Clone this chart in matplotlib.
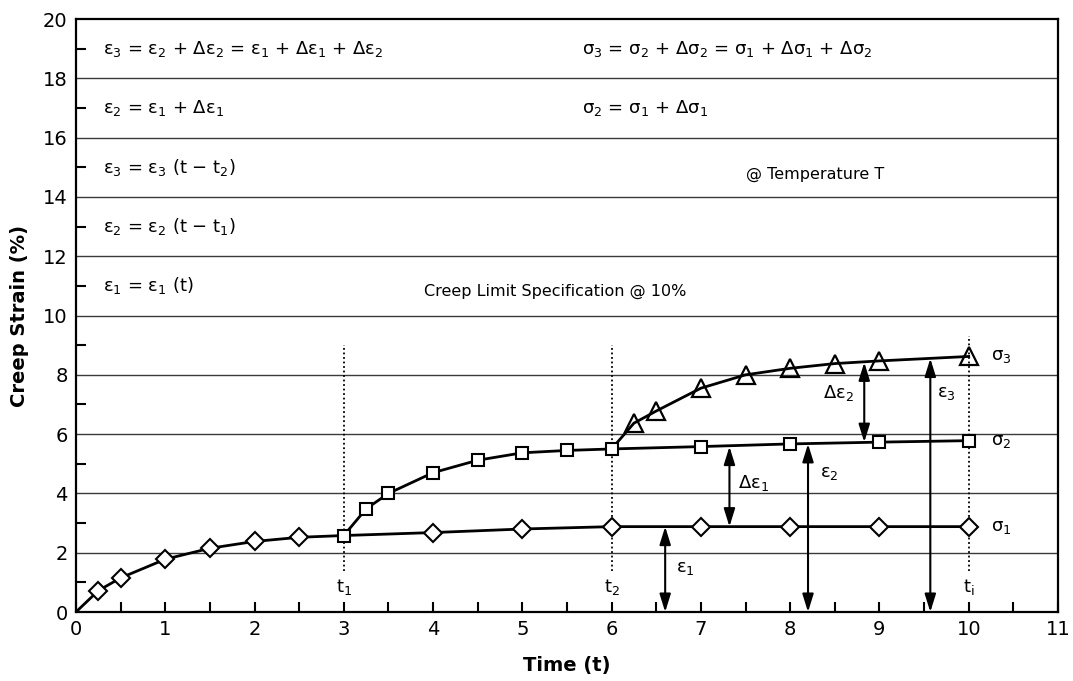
import numpy as np
import matplotlib
matplotlib.use("Agg")
import matplotlib.pyplot as plt

# ---- data ----
# sigma_1 curve (diamonds); the origin and t=3 carry no diamond
t_s1 = [0, 0.25, 0.5, 1, 1.5, 2, 2.5, 3, 4, 5, 6, 7, 8, 9, 10]
e_s1 = [0, 0.72, 1.15, 1.78, 2.15, 2.38, 2.52, 2.58, 2.68, 2.80, 2.88, 2.88, 2.88, 2.88, 2.88]
s1_marked = [1, 2, 3, 4, 5, 6, 8, 9, 10, 11, 12, 13, 14]

# sigma_2 curve (squares), branching from sigma_1 at t1 = 3
t_s2 = [3, 3.25, 3.5, 4, 4.5, 5, 5.5, 6, 7, 8, 9, 10]
e_s2 = [2.58, 3.48, 4.0, 4.70, 5.12, 5.37, 5.45, 5.50, 5.58, 5.67, 5.73, 5.78]

# sigma_3 curve (triangles), branching from sigma_2 at t2 = 6
t_s3 = [6, 6.25, 6.5, 7, 7.5, 8, 8.5, 9, 10]
e_s3 = [5.50, 6.37, 6.78, 7.55, 8.00, 8.22, 8.38, 8.47, 8.62]

# time markers
t_marks = [3, 6, 10]
t_mark_labels = ["t$_1$", "t$_2$", "t$_i$"]
t_mark_top = [9.0, 9.0, 9.3]

# strain arrows: x, bottom, top, label, label x, label y
arrows = [
    (6.6, 0.0, 2.88, "ε$_1$", 6.72, 1.5),
    (7.32, 2.88, 5.58, "Δε$_1$", 7.42, 4.35),
    (8.2, 0.0, 5.67, "ε$_2$", 8.33, 4.7),
    (8.83, 5.73, 8.42, "Δε$_2$", 8.37, 7.38),
    (9.57, 0.0, 8.55, "ε$_3$", 9.64, 7.38),
]

left_notes = [
    (19, "ε$_3$ = ε$_2$ + Δε$_2$ = ε$_1$ + Δε$_1$ + Δε$_2$"),
    (17, "ε$_2$ = ε$_1$ + Δε$_1$"),
    (15, "ε$_3$ = ε$_3$ (t − t$_2$)"),
    (13, "ε$_2$ = ε$_2$ (t − t$_1$)"),
    (11, "ε$_1$ = ε$_1$ (t)"),
]
right_notes = [
    (19, "σ$_3$ = σ$_2$ + Δσ$_2$ = σ$_1$ + Δσ$_1$ + Δσ$_2$"),
    (17, "σ$_2$ = σ$_1$ + Δσ$_1$"),
]
series_labels = ["σ$_1$", "σ$_2$", "σ$_3$"]

plt.rcParams["font.family"] = "DejaVu Sans"
plt.rcParams["mathtext.default"] = "regular"

fig = plt.figure(figsize=(10.73, 6.81), dpi=100)
ax = fig.add_axes([0.0708, 0.1013, 0.9152, 0.8707])

ax.set_xlim(0, 11)
ax.set_ylim(0, 20)

# horizontal grid at major y ticks
for yv in range(2, 20, 2):
    ax.axhline(yv, color="#3a3a3a", lw=1.0, zorder=1)

lw = 2.0
ax.plot(t_s1, e_s1, color="black", lw=lw, zorder=3)
ax.plot(t_s1, e_s1, ls="none", marker="D", ms=9, mfc="white",
        mec="black", mew=1.5, markevery=s1_marked, zorder=4)
ax.plot(t_s2, e_s2, color="black", lw=lw, zorder=3)
ax.plot(t_s2, e_s2, ls="none", marker="s", ms=8, mfc="white",
        mec="black", mew=1.5, zorder=4)
ax.plot(t_s3, e_s3, color="black", lw=lw, zorder=3)
ax.plot(t_s3[1:], e_s3[1:], ls="none", marker="^", ms=12.5, mfc="none",
        mec="black", mew=1.6, zorder=4)

# dotted time markers
for tm, lab, top in zip(t_marks, t_mark_labels, t_mark_top):
    ax.plot([tm, tm], [1.4, top], color="black", lw=1.3, ls=(0, (1, 1.5)), zorder=2)
    ax.text(tm, 0.85, lab, ha="center", va="center", fontsize=13)

# double-headed arrows
for x, y0, y1, lab, lx, ly in arrows:
    ax.annotate("", xy=(x, y1), xytext=(x, y0),
                arrowprops=dict(arrowstyle="<|-|>,head_length=0.9,head_width=0.28",
                                color="black", lw=1.5,
                                mutation_scale=12, shrinkA=0, shrinkB=0),
                zorder=5)
    ax.text(lx, ly, lab, ha="left", va="center", fontsize=13)

# series labels at the right end
for lab, ys in zip(series_labels, [e_s1, e_s2, e_s3]):
    ax.text(10.25, ys[-1], lab, ha="left", va="center", fontsize=13)

for yv, s in left_notes:
    ax.text(0.3, yv, s, ha="left", va="center", fontsize=13)
for yv, s in right_notes:
    ax.text(5.67, yv, s, ha="left", va="center", fontsize=13)
ax.text(7.5, 14.75, "@ Temperature T", ha="left", va="center", fontsize=11.5)
ax.text(3.9, 10.8, "Creep Limit Specification @ 10%", ha="left", va="center", fontsize=11.5)

# ticks
ax.set_xticks(np.arange(0, 12, 1))
ax.set_xticks(np.arange(0.5, 11, 1), minor=True)
ax.set_yticks(np.arange(0, 22, 2))
ax.set_yticks(np.arange(1, 20, 2), minor=True)
ax.tick_params(axis="x", which="both", direction="in", length=7, width=1.5,
               labelsize=14, pad=6)
ax.tick_params(axis="y", which="major", direction="in", length=0, labelsize=14, pad=6)
ax.tick_params(axis="y", which="minor", direction="in", length=7, width=1.5)

for sp in ax.spines.values():
    sp.set_linewidth(1.6)

ax.set_xlabel("Time (t)", fontsize=14, fontweight="bold", labelpad=12)
ax.set_ylabel("Creep Strain (%)", fontsize=14, fontweight="bold", labelpad=10)

fig.savefig("out.png", dpi=100)
